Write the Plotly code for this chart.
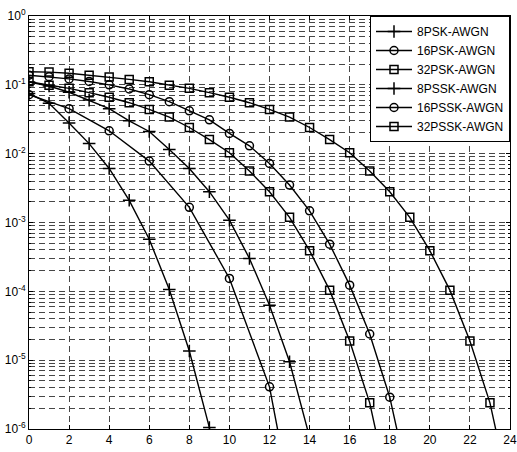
import plotly.graph_objects as go

# ---- data ----
snr_psk8 = list(range(0, 15))
psk8 = [0.11, 0.096, 0.078, 0.06, 0.045, 0.030, 0.021, 0.0115, 0.0061, 0.0028,
        0.00108, 3.0e-4, 6.3e-5, 9.5e-6, 7.6e-7]

snr_psk16 = list(range(0, 20))
psk16 = [0.138, 0.131, 0.122, 0.112, 0.100, 0.087, 0.072, 0.057, 0.042, 0.031,
         0.0197, 0.013, 0.0072, 0.0035, 0.00148, 4.85e-4, 1.23e-4, 2.4e-5, 2.9e-6, 1.4e-7]

snr_psk32 = list(range(0, 25))
psk32 = [0.155, 0.153, 0.147, 0.138, 0.130, 0.120, 0.111, 0.099, 0.089, 0.077,
         0.066, 0.055, 0.044, 0.034, 0.024, 0.016, 0.0103, 0.0056, 0.0028, 0.00119,
         3.9e-4, 1.04e-4, 1.9e-5, 2.4e-6, 1.1e-7]

snr_pssk8 = list(range(0, 11))
pssk8 = [0.075, 0.054, 0.028, 0.014, 0.0061, 0.0021, 5.7e-4, 1.06e-4, 1.36e-5, 1.05e-6, 4e-8]

snr_pssk16 = [0, 2, 4, 6, 8, 10, 12, 14]
pssk16 = [0.072, 0.045, 0.0215, 0.0078, 0.00166, 1.54e-4, 4.1e-6, 3.6e-9]

snr_pssk32 = list(range(0, 19))
pssk32 = [0.111, 0.099, 0.089, 0.077, 0.066, 0.055, 0.044, 0.034, 0.024, 0.016,
          0.0103, 0.0056, 0.0028, 0.00119, 3.9e-4, 1.04e-4, 1.9e-5, 2.4e-6, 1.1e-7]

series = [
    ("8PSK-AWGN", snr_psk8, psk8, "cross-thin-open", 9),
    ("16PSK-AWGN", snr_psk16, psk16, "circle-open", 8),
    ("32PSK-AWGN", snr_psk32, psk32, "square-open", 8),
    ("8PSSK-AWGN", snr_pssk8, pssk8, "cross-thin-open", 9),
    ("16PSSK-AWGN", snr_pssk16, pssk16, "circle-open", 8),
    ("32PSSK-AWGN", snr_pssk32, pssk32, "square-open", 8),
]

x_ticks = list(range(0, 25, 2))
decades = [-6, -5, -4, -3, -2, -1, 0]

fig = go.Figure()
for name, xs, ys, sym, sz in series:
    fig.add_trace(go.Scatter(
        x=xs, y=ys, name=name, mode="lines+markers",
        line=dict(color="black", width=1.4),
        marker=dict(symbol=sym, size=sz, color="black",
                    line=dict(color="black", width=1.5)),
    ))

major_y = [10.0 ** d for d in decades]
major_text = ["10<sup>%d</sup>" % d for d in decades]
minor_y = [k * 10.0 ** d for d in decades[:-1] for k in range(2, 10)]

grid_col = "rgb(70,70,70)"
dash = "6px,4px"
fig.update_layout(
    width=517, height=452,
    margin=dict(l=29, r=7, t=16, b=23),
    paper_bgcolor="white", plot_bgcolor="white",
    font=dict(family="Liberation Sans, Arial, sans-serif", size=12, color="black"),
    showlegend=True,
    legend=dict(x=1, xanchor="right", y=1, yanchor="top",
                bgcolor="white", bordercolor="black", borderwidth=1,
                font=dict(size=12), itemwidth=36, tracegroupgap=0),
    xaxis=dict(range=[0, 24], tickvals=x_ticks, ticktext=[str(v) for v in x_ticks],
               showgrid=True, gridcolor=grid_col, griddash=dash, gridwidth=1,
               showline=True, linecolor="black", linewidth=1, mirror="allticks",
               ticks="inside", ticklen=4, tickcolor="black", zeroline=False,
               tickfont=dict(size=12), automargin=False),
    yaxis=dict(type="log", range=[-6, 0], tickvals=major_y, ticktext=major_text,
               showgrid=True, gridcolor=grid_col, griddash=dash, gridwidth=1,
               showline=True, linecolor="black", linewidth=1, mirror="allticks",
               ticks="inside", ticklen=4, tickcolor="black", zeroline=False,
               tickfont=dict(size=12), automargin=False,
               minor=dict(tickvals=minor_y, showgrid=True, gridcolor=grid_col,
                          griddash=dash, gridwidth=1, ticks="inside", ticklen=2,
                          tickcolor="black")),
)

fig.write_html("out.html", config={"displayModeBar": False},
               post_script="document.body.style.margin='0';")
